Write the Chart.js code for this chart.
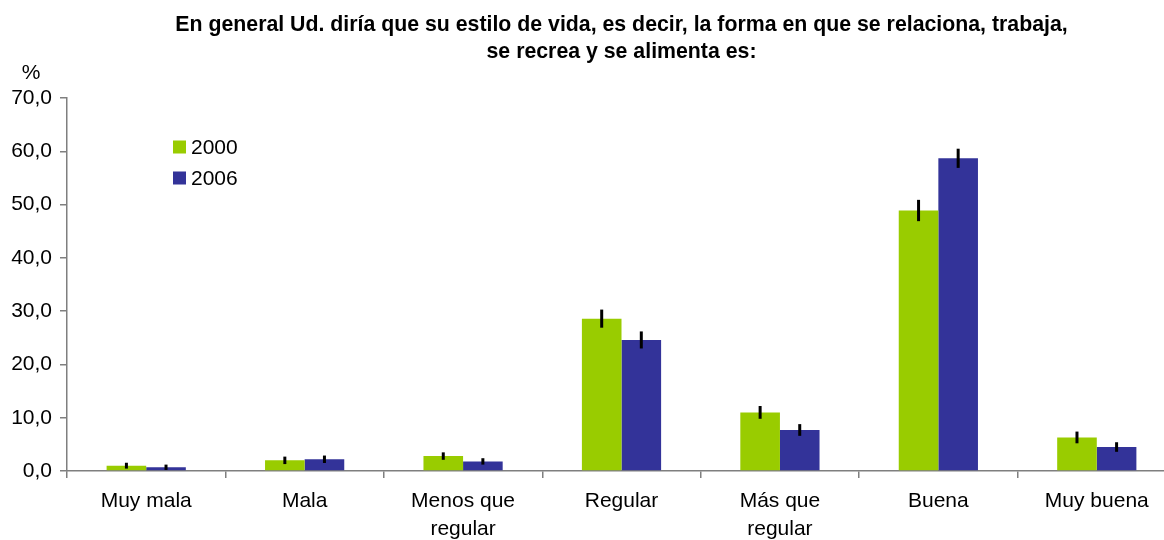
<!DOCTYPE html>
<html>
<head>
<meta charset="utf-8">
<script src="https://cdn.jsdelivr.net/npm/chart.js@4.4.1/dist/chart.umd.min.js"></script>
<style>
    html, body { margin: 0; padding: 0; background: #fff; overflow: hidden; }
    #wrap { width: 1180px; height: 540px; }
</style>
</head>
<body>
<div id="wrap"><canvas id="chart"></canvas></div>
<script>
const categories = ['Muy mala', 'Mala', ['Menos que', 'regular'], 'Regular', ['Más que', 'regular'], 'Buena', 'Muy buena'];
const seriesNames = ['2000', '2006'];
const values2000 = [1.0, 2.0, 2.8, 28.6, 11.0, 48.9, 6.3];
const values2006 = [0.7, 2.2, 1.8, 24.6, 7.7, 58.7, 4.5];
const errors2000 = [0.55, 0.7, 0.7, 1.7, 1.2, 2.0, 1.1];
const errors2006 = [0.5, 0.7, 0.6, 1.6, 1.1, 1.8, 0.9];
const yTicks = [0, 10, 20, 30, 40, 50, 60, 70];

const FONT = "'Liberation Sans', Arial, sans-serif";
const GREEN = '#99cc00';
const BLUE = '#333399';
const AXIS = '#7f7f7f';

// error bars drawn on top of each bar
const errorBars = {
    id: 'errorBars',
    afterDatasetsDraw(chart) {
        const ctx = chart.ctx;
        const y = chart.scales.y;
        ctx.save();
        ctx.strokeStyle = '#000';
        ctx.lineWidth = 3;
        chart.data.datasets.forEach((ds, i) => {
            const meta = chart.getDatasetMeta(i);
            meta.data.forEach((bar, j) => {
                const v = ds.data[j], e = ds.errors[j];
                ctx.beginPath();
                ctx.moveTo(bar.x, y.getPixelForValue(v - e));
                ctx.lineTo(bar.x, y.getPixelForValue(v + e));
                ctx.stroke();
            });
        });
        ctx.restore();
    }
};

// "%" unit label and the legend inside the plot
const extras = {
    id: 'extras',
    afterDraw(chart) {
        const ctx = chart.ctx;
        ctx.save();
        ctx.fillStyle = '#000';
        ctx.font = '21px ' + FONT;
        ctx.textBaseline = 'middle';
        ctx.textAlign = 'center';
        ctx.fillText('%', 31, 73);
        ctx.textAlign = 'left';
        chart.data.datasets.forEach((ds, i) => {
            const cy = 147 + i * 31;
            ctx.fillStyle = ds.backgroundColor;
            ctx.fillRect(173, cy - 6.5, 13, 13);
            ctx.fillStyle = '#000';
            ctx.fillText(ds.label, 191, cy + 1);
        });
        ctx.restore();
    }
};

new Chart(document.getElementById('chart'), {
    type: 'bar',
    data: {
        labels: categories,
        datasets: [
            { label: seriesNames[0], data: values2000, errors: errors2000, backgroundColor: GREEN },
            { label: seriesNames[1], data: values2006, errors: errors2006, backgroundColor: BLUE }
        ]
    },
    options: {
        responsive: true,
        maintainAspectRatio: false,
        animation: false,
        layout: { padding: { left: 0, right: 4, top: 0, bottom: 0 } },
        datasets: { bar: { categoryPercentage: 0.5, barPercentage: 1.0 } },
        plugins: {
            legend: { display: false },
            tooltip: { enabled: false },
            title: {
                display: true,
                fullSize: false,
                text: ['En general Ud. diría que su estilo de vida, es decir, la forma en que se relaciona, trabaja,',
                       'se recrea y se alimenta es:'],
                color: '#000',
                font: { family: FONT, size: 21.3, weight: 'bold', lineHeight: 1.27 },
                padding: { top: 11.5, bottom: 32.5 }
            }
        },
        scales: {
            x: {
                grid: { drawOnChartArea: false, drawTicks: true, tickLength: 7, color: AXIS, lineWidth: 1.5 },
                border: { color: AXIS, width: 1.5 },
                ticks: { color: '#000', font: { family: FONT, size: 21, lineHeight: 1.3 }, padding: 10, maxRotation: 0, autoSkip: false },
                afterFit(scale) { scale.height = 69; }
            },
            y: {
                min: 0,
                max: 70,
                afterBuildTicks(scale) { scale.ticks = yTicks.map(v => ({ value: v })); },
                grid: { drawOnChartArea: false, drawTicks: true, tickLength: 7, color: AXIS, lineWidth: 1.5 },
                border: { color: AXIS, width: 1.5 },
                ticks: {
                    color: '#000',
                    font: { family: FONT, size: 21 },
                    padding: 8,
                    callback: v => v.toFixed(1).replace('.', ',')
                },
                afterFit(scale) { scale.width = 67; }
            }
        }
    },
    plugins: [errorBars, extras]
});
</script>
</body>
</html>
